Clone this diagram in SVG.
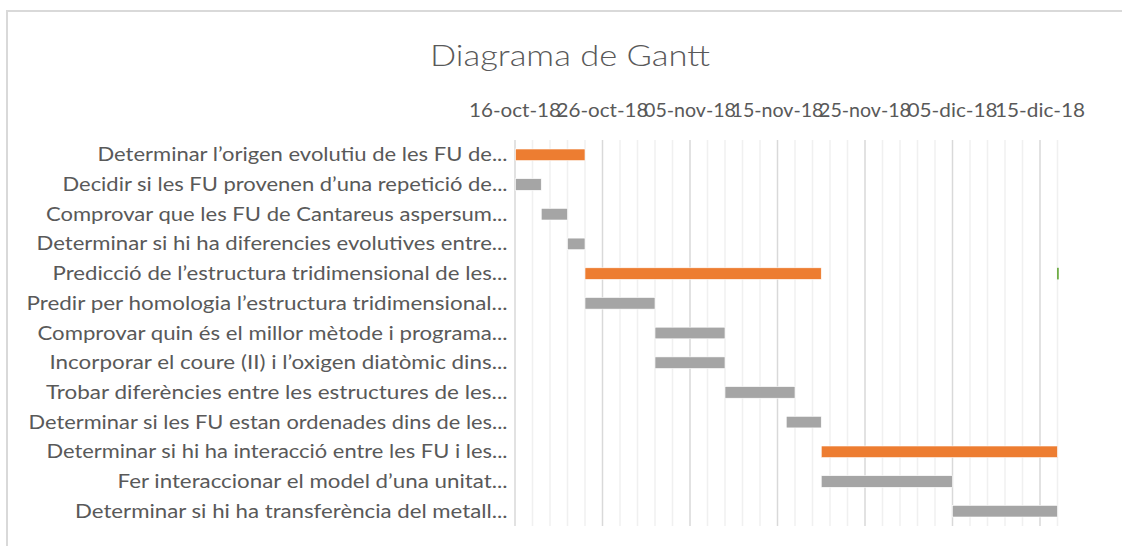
<svg xmlns="http://www.w3.org/2000/svg" width="1122" height="546" viewBox="0 0 1122 546">
<style>
.frame{fill:none;stroke:#d9d9d9;stroke-width:2}
.major{stroke:#d9d9d9;stroke-width:1.5}
.minor{stroke:#f0f0f0;stroke-width:1.5}
.lbl{font-family:Lato,"Open Sans","Liberation Sans",sans-serif;font-size:19.5px;fill:#595959;text-anchor:end}
.tick{font-family:Lato,"Open Sans","Liberation Sans",sans-serif;font-size:19.5px;fill:#595959;text-anchor:middle}
.title{font-family:Lato,"Open Sans","Liberation Sans",sans-serif;font-weight:300;font-size:30px;fill:#595959;text-anchor:middle}
.orange{fill:#ed7d31;stroke:#ffffff;stroke-width:0.6}
.gray{fill:#a5a5a5;stroke:#ffffff;stroke-width:0.6}
.green{fill:#70ad47}
</style>
<rect width="1122" height="546" fill="#ffffff"/>
<path class="frame" d="M7 546 V11 H1122"/>
<text class="title" x="570" y="66" textLength="280" lengthAdjust="spacingAndGlyphs">Diagrama de Gantt</text>
<g id="axis-labels">
<text class="tick" x="515" y="117" textLength="92" lengthAdjust="spacingAndGlyphs">16-oct-18</text>
<text class="tick" x="602.5" y="117" textLength="92" lengthAdjust="spacingAndGlyphs">26-oct-18</text>
<text class="tick" x="690" y="117" textLength="92" lengthAdjust="spacingAndGlyphs">05-nov-18</text>
<text class="tick" x="777.5" y="117" textLength="92" lengthAdjust="spacingAndGlyphs">15-nov-18</text>
<text class="tick" x="865" y="117" textLength="92" lengthAdjust="spacingAndGlyphs">25-nov-18</text>
<text class="tick" x="952.5" y="117" textLength="90" lengthAdjust="spacingAndGlyphs">05-dic-18</text>
<text class="tick" x="1040" y="117" textLength="90" lengthAdjust="spacingAndGlyphs">15-dic-18</text>
</g>
<g id="gridlines">
<line class="minor" x1="532.5" y1="140" x2="532.5" y2="526"/>
<line class="minor" x1="550" y1="140" x2="550" y2="526"/>
<line class="minor" x1="567.5" y1="140" x2="567.5" y2="526"/>
<line class="minor" x1="585" y1="140" x2="585" y2="526"/>
<line class="minor" x1="620" y1="140" x2="620" y2="526"/>
<line class="minor" x1="637.5" y1="140" x2="637.5" y2="526"/>
<line class="minor" x1="655" y1="140" x2="655" y2="526"/>
<line class="minor" x1="672.5" y1="140" x2="672.5" y2="526"/>
<line class="minor" x1="707.5" y1="140" x2="707.5" y2="526"/>
<line class="minor" x1="725" y1="140" x2="725" y2="526"/>
<line class="minor" x1="742.5" y1="140" x2="742.5" y2="526"/>
<line class="minor" x1="760" y1="140" x2="760" y2="526"/>
<line class="minor" x1="795" y1="140" x2="795" y2="526"/>
<line class="minor" x1="812.5" y1="140" x2="812.5" y2="526"/>
<line class="minor" x1="830" y1="140" x2="830" y2="526"/>
<line class="minor" x1="847.5" y1="140" x2="847.5" y2="526"/>
<line class="minor" x1="882.5" y1="140" x2="882.5" y2="526"/>
<line class="minor" x1="900" y1="140" x2="900" y2="526"/>
<line class="minor" x1="917.5" y1="140" x2="917.5" y2="526"/>
<line class="minor" x1="935" y1="140" x2="935" y2="526"/>
<line class="minor" x1="970" y1="140" x2="970" y2="526"/>
<line class="minor" x1="987.5" y1="140" x2="987.5" y2="526"/>
<line class="minor" x1="1005" y1="140" x2="1005" y2="526"/>
<line class="minor" x1="1022.5" y1="140" x2="1022.5" y2="526"/>
<line class="minor" x1="1057.5" y1="140" x2="1057.5" y2="526"/>
<line class="major" x1="515" y1="140" x2="515" y2="526"/>
<line class="major" x1="602.5" y1="140" x2="602.5" y2="526"/>
<line class="major" x1="690" y1="140" x2="690" y2="526"/>
<line class="major" x1="777.5" y1="140" x2="777.5" y2="526"/>
<line class="major" x1="865" y1="140" x2="865" y2="526"/>
<line class="major" x1="952.5" y1="140" x2="952.5" y2="526"/>
<line class="major" x1="1040" y1="140" x2="1040" y2="526"/>
</g>
<g id="task-1"><text class="lbl" x="507.5" y="161.3" textLength="410" lengthAdjust="spacingAndGlyphs">Determinar l’origen evolutiu de les FU de...</text><rect class="orange" x="515.5" y="149" width="69.5" height="11.6"/></g>
<g id="task-2"><text class="lbl" x="507.5" y="191" textLength="445" lengthAdjust="spacingAndGlyphs">Decidir si les FU provenen d’una repetició de...</text><rect class="gray" x="515.5" y="178.7" width="25.75" height="11.6"/></g>
<g id="task-3"><text class="lbl" x="507.5" y="220.7" textLength="461.5" lengthAdjust="spacingAndGlyphs">Comprovar que les FU de Cantareus aspersum...</text><rect class="gray" x="541.25" y="208.4" width="26.25" height="11.6"/></g>
<g id="task-4"><text class="lbl" x="507.5" y="250.4" textLength="471" lengthAdjust="spacingAndGlyphs">Determinar si hi ha diferencies evolutives entre...</text><rect class="gray" x="567.5" y="238.1" width="17.5" height="11.6"/></g>
<g id="task-5"><text class="lbl" x="507.5" y="280.1" textLength="455" lengthAdjust="spacingAndGlyphs">Predicció de l’estructura tridimensional de les...</text><rect class="orange" x="585" y="267.8" width="236.25" height="11.6"/><rect class="green" x="1057" y="267.8" width="1.8" height="11.6"/></g>
<g id="task-6"><text class="lbl" x="507.5" y="309.8" textLength="481" lengthAdjust="spacingAndGlyphs">Predir per homologia l’estructura tridimensional...</text><rect class="gray" x="585" y="297.5" width="70" height="11.6"/></g>
<g id="task-7"><text class="lbl" x="507.5" y="339.5" textLength="470" lengthAdjust="spacingAndGlyphs">Comprovar quin és el millor mètode i programa...</text><rect class="gray" x="655" y="327.2" width="70" height="11.6"/></g>
<g id="task-8"><text class="lbl" x="507.5" y="369.2" textLength="458" lengthAdjust="spacingAndGlyphs">Incorporar el coure (II) i l’oxigen diatòmic dins...</text><rect class="gray" x="655" y="356.9" width="70" height="11.6"/></g>
<g id="task-9"><text class="lbl" x="507.5" y="398.9" textLength="461.5" lengthAdjust="spacingAndGlyphs">Trobar diferències entre les estructures de les...</text><rect class="gray" x="725" y="386.6" width="70" height="11.6"/></g>
<g id="task-10"><text class="lbl" x="507.5" y="428.6" textLength="479" lengthAdjust="spacingAndGlyphs">Determinar si les FU estan ordenades dins de les...</text><rect class="gray" x="786.25" y="416.3" width="35" height="11.6"/></g>
<g id="task-11"><text class="lbl" x="507.5" y="458.3" textLength="461" lengthAdjust="spacingAndGlyphs">Determinar si hi ha interacció entre les FU i les...</text><rect class="orange" x="821.25" y="446" width="236.25" height="11.6"/></g>
<g id="task-12"><text class="lbl" x="507.5" y="488" textLength="390" lengthAdjust="spacingAndGlyphs">Fer interaccionar el model d’una unitat...</text><rect class="gray" x="821.25" y="475.7" width="131.25" height="11.6"/></g>
<g id="task-13"><text class="lbl" x="507.5" y="517.7" textLength="432.5" lengthAdjust="spacingAndGlyphs">Determinar si hi ha transferència del metall...</text><rect class="gray" x="952.5" y="505.4" width="105" height="11.6"/></g>
</svg>
